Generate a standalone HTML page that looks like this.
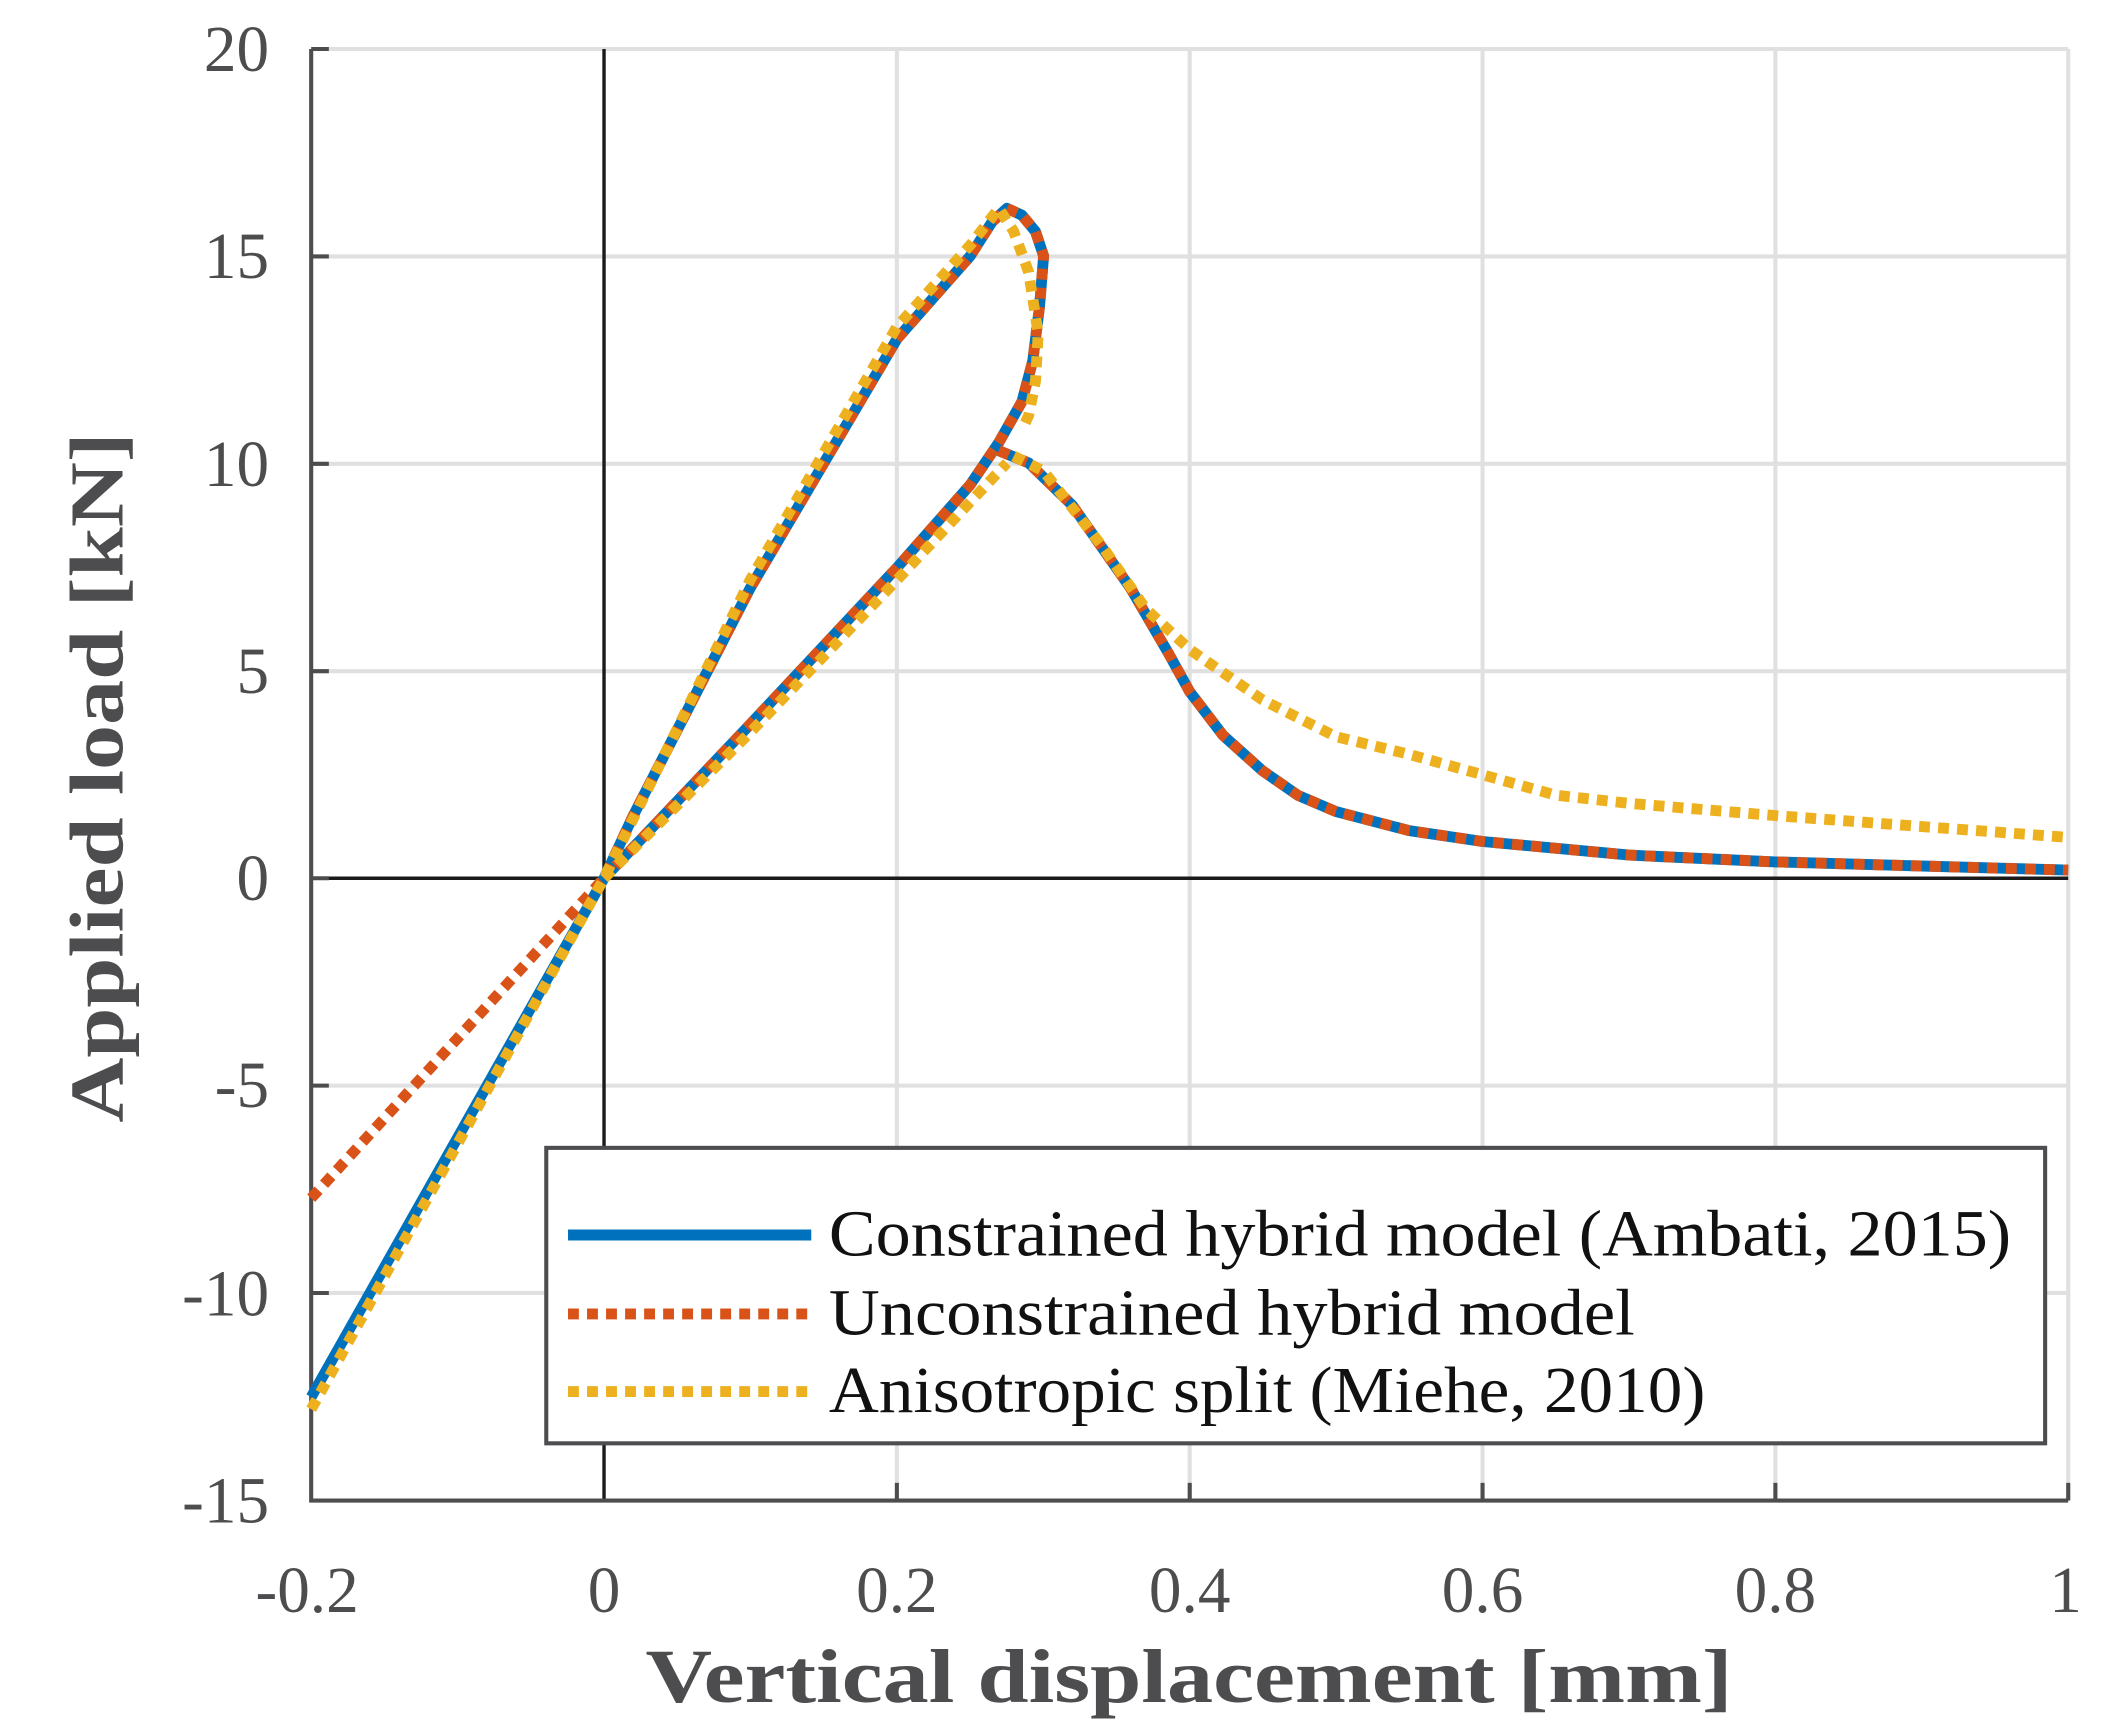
<!DOCTYPE html>
<html><head><meta charset="utf-8"><style>html,body{margin:0;padding:0;background:#fff}svg{display:block}</style></head>
<body>
<svg width="2109" height="1732" viewBox="0 0 1552 1272" preserveAspectRatio="none" xmlns="http://www.w3.org/2000/svg">
<rect width="1552" height="1272" fill="#fff"/>
<g stroke="#e0e0e0" stroke-width="3">
<line x1="660" y1="36" x2="660" y2="1102"/><line x1="875.5" y1="36" x2="875.5" y2="1102"/><line x1="1091" y1="36" x2="1091" y2="1102"/><line x1="1306.5" y1="36" x2="1306.5" y2="1102"/><line x1="1522" y1="36" x2="1522" y2="1102"/>
<line x1="229" y1="36" x2="1522" y2="36"/><line x1="229" y1="188.3" x2="1522" y2="188.3"/><line x1="229" y1="340.6" x2="1522" y2="340.6"/><line x1="229" y1="492.9" x2="1522" y2="492.9"/><line x1="229" y1="797.3" x2="1522" y2="797.3"/><line x1="229" y1="949.6" x2="1522" y2="949.6"/>
</g>
<g stroke="#1a1a1a" stroke-width="2.5"><line x1="444.5" y1="36" x2="444.5" y2="1102"/><line x1="229" y1="645" x2="1522" y2="645"/></g>
<path d="M229,36 V1102 H1522" fill="none" stroke="#4d4d4f" stroke-width="3"/>
<g stroke="#4d4d4f" stroke-width="3">
<line x1="229" y1="188.3" x2="242" y2="188.3"/><line x1="229" y1="340.6" x2="242" y2="340.6"/><line x1="229" y1="492.9" x2="242" y2="492.9"/><line x1="229" y1="645" x2="242" y2="645"/><line x1="229" y1="797.3" x2="242" y2="797.3"/><line x1="229" y1="949.6" x2="242" y2="949.6"/><line x1="229" y1="36" x2="242" y2="36"/>
<line x1="660" y1="1102" x2="660" y2="1089"/><line x1="875.5" y1="1102" x2="875.5" y2="1089"/><line x1="1091" y1="1102" x2="1091" y2="1089"/><line x1="1306.5" y1="1102" x2="1306.5" y2="1089"/><line x1="1522" y1="1102" x2="1522" y2="1089"/>
</g>
<g font-family="Liberation Serif, serif" font-size="48" fill="#4d4d4f" text-anchor="end">
<text x="198" y="52">20</text><text x="198" y="204">15</text><text x="198" y="357">10</text><text x="198" y="509">5</text><text x="198" y="661">0</text><text x="198" y="813">-5</text><text x="198" y="966">-10</text><text x="198" y="1118">-15</text>
</g>
<g font-family="Liberation Serif, serif" font-size="48" fill="#4d4d4f" text-anchor="middle">
<text x="226" y="1184">-0.2</text><text x="444.5" y="1184">0</text><text x="660" y="1184">0.2</text><text x="875.5" y="1184">0.4</text><text x="1091" y="1184">0.6</text><text x="1306.5" y="1184">0.8</text><text x="1520" y="1184">1</text>
<text x="875" y="1250" font-size="56" font-weight="bold" textLength="800" lengthAdjust="spacingAndGlyphs">Vertical displacement [mm]</text>
<text transform="translate(90,571) rotate(-90)" font-size="56" font-weight="bold" textLength="507" lengthAdjust="spacingAndGlyphs">Applied load [kN]</text>
</g>
<g fill="none" stroke-width="8" stroke-linejoin="round">
<polyline stroke="#0072BD" points="229,1026 444.5,645 466,599 552,432 660,249 714,188 730,163 741,153 752,158 762,170 768,188 765,225 760,265 752,295 735,325 714,356 660,417 552,532 444.5,645"/>
<polyline stroke="#0072BD" points="735,331 757,340 789,371 832,432 860,480 875.5,508 900,540 929,566 955,584 983,596 1037,610 1091,618 1199,628 1306.5,633 1414,636 1522,639"/>
<g stroke="#D95319" stroke-dasharray="8,6">
<polyline points="229,880 444.5,645 466,599 552,432 660,249 714,188 730,163 741,153 752,158 762,170 768,188 765,225 760,265 752,295 735,325 714,356 660,417 552,532 444.5,645"/>
<polyline points="735,331 757,340 789,371 832,432 860,480 875.5,508 900,540 929,566 955,584 983,596 1037,610 1091,618 1199,628 1306.5,633 1414,636 1522,639"/>
</g>
<g stroke="#EDB120" stroke-dasharray="8,6">
<polyline points="229,1035 444.5,645 552,426 660,240 714,180 735,153 746,170 757,200 764,245 762,280 757,305 752,316"/>
<polyline points="444.5,645 552,538 660,426 741,340"/>
<polyline points="746,335 768,346 811,401 843,447 875.5,477 929,514 983,541 1037,554 1091,569 1145,584 1199,590 1306.5,599 1414,607 1522,615"/>
</g>
</g>
<rect x="402" y="843" width="1103" height="217" fill="#fff" stroke="#4d4d4f" stroke-width="3"/>
<g stroke-width="8"><line x1="418" y1="907" x2="597" y2="907" stroke="#0072BD"/>
<line x1="418" y1="965" x2="597" y2="965" stroke="#D95319" stroke-dasharray="8,6"/>
<line x1="418" y1="1022" x2="597" y2="1022" stroke="#EDB120" stroke-dasharray="8,6"/></g>
<g font-family="Liberation Serif, serif" font-size="48" fill="#111">
<text x="610" y="922" textLength="870" lengthAdjust="spacingAndGlyphs">Constrained hybrid model (Ambati, 2015)</text>
<text x="610" y="980" textLength="593" lengthAdjust="spacingAndGlyphs">Unconstrained hybrid model</text>
<text x="610" y="1037" textLength="645" lengthAdjust="spacingAndGlyphs">Anisotropic split (Miehe, 2010)</text>
</g>
</svg>
</body></html>
